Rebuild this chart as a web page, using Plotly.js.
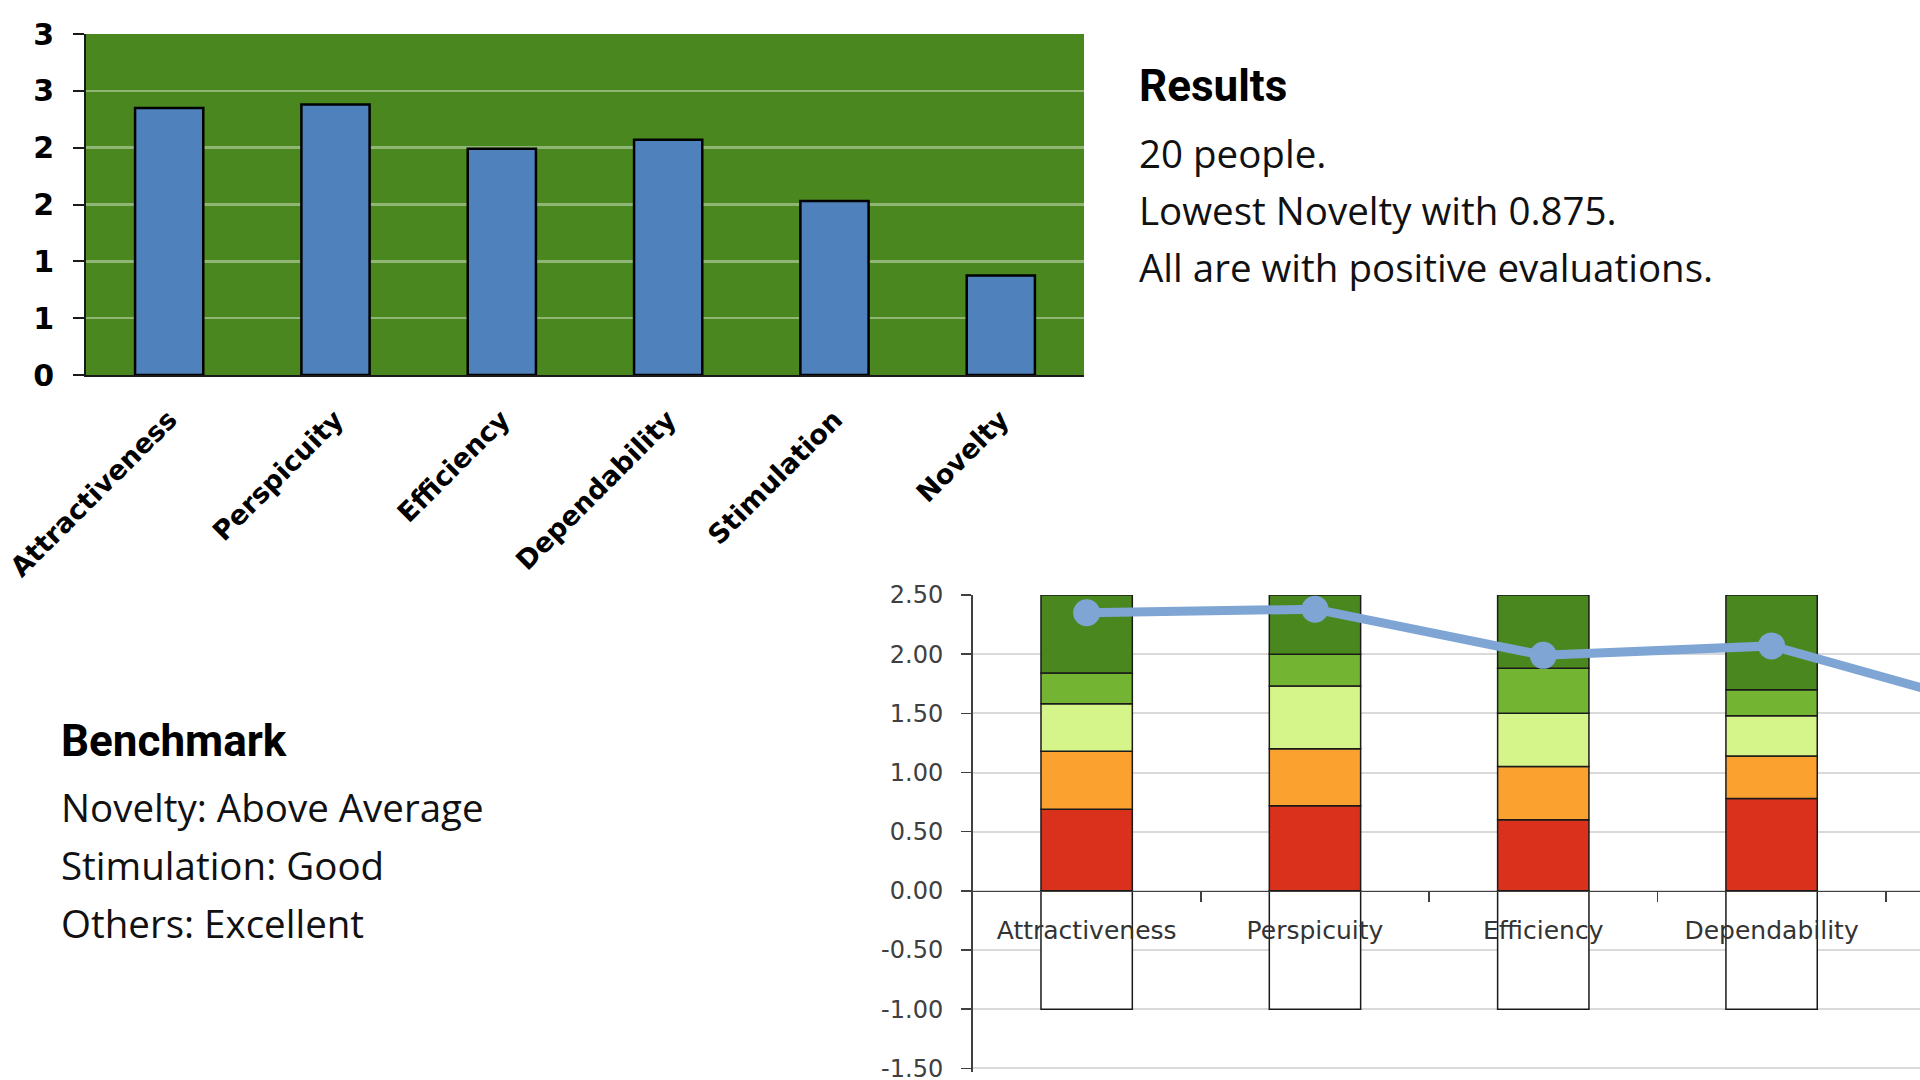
<!DOCTYPE html>
<html>
<head>
<meta charset="utf-8">
<script src="https://cdn.plot.ly/plotly-3.0.1.min.js"></script>
<style>
  html, body { margin: 0; padding: 0; background: #ffffff; }
  #chart { width: 1920px; height: 1080px; }
</style>
</head>
<body>
<div id="chart"></div>
<script>
// ---------- data ----------
const categories = ['Attractiveness', 'Perspicuity', 'Efficiency', 'Dependability', 'Stimulation', 'Novelty'];
const meanValues = [2.35, 2.38, 1.99, 2.07, 1.53, 0.875];

// top chart y tick labels (Excel "0" number format)
const topTickVals = [0, 0.5, 1, 1.5, 2, 2.5, 3];
const topTickText = ['0', '1', '1', '2', '2', '3', '3'];

// bottom chart y tick labels
const bottomTickVals = [-1.5, -1, -0.5, 0, 0.5, 1, 1.5, 2, 2.5];
const bottomTickText = ['-1.50', '-1.00', '-0.50', '0.00', '0.50', '1.00', '1.50', '2.00', '2.50'];

// benchmark stacked segments (heights of each band)
const lowerBorder  = [-1, -1, -1, -1, -1, -1];
const bad          = [0.69, 0.72, 0.60, 0.78, 0.50, 0.16];
const belowAverage = [0.49, 0.48, 0.45, 0.36, 0.50, 0.54];
const aboveAverage = [0.40, 0.53, 0.45, 0.34, 0.35, 0.42];
const good         = [0.26, 0.27, 0.38, 0.22, 0.20, 0.28];
const excellent    = [0.66, 0.50, 0.62, 0.80, 0.95, 1.10];

const resultsTitle = 'Results';
const resultsLines = ['20 people.', 'Lowest Novelty with 0.875.', 'All are with positive evaluations.'];
const benchTitle = 'Benchmark';
const benchLines = ['Novelty: Above Average', 'Stimulation: Good', 'Others: Excellent'];

// ---------- layout helpers ----------
const W = 1920, H = 1080;
const px = v => v / W;
const py = v => 1 - v / H;

const darkGreen = '#4A881F';
const segOutline = { color: '#1a1a1a', width: 1.5 };

const traces = [];

// top chart bars
traces.push({
  type: 'bar', x: categories, y: meanValues, xaxis: 'x', yaxis: 'y',
  width: 0.41,
  marker: { color: '#4F81BD', line: { color: '#000000', width: 2.5 } },
  hoverinfo: 'x+y', showlegend: false
});

// bottom benchmark stacked bars
const segs = [
  { y: lowerBorder,  c: '#FFFFFF' },
  { y: bad,          c: '#DA311C' },
  { y: belowAverage, c: '#FBA130' },
  { y: aboveAverage, c: '#D5F58A' },
  { y: good,         c: '#74B433' },
  { y: excellent,    c: darkGreen }
];
segs.forEach(s => traces.push({
  type: 'bar', x: categories, y: s.y, xaxis: 'x2', yaxis: 'y2',
  width: 0.4,
  marker: { color: s.c, line: segOutline },
  showlegend: false, hoverinfo: 'skip'
}));

// mean line
traces.push({
  type: 'scatter', mode: 'lines+markers', x: categories, y: meanValues,
  xaxis: 'x2', yaxis: 'y2',
  line: { color: '#7FA5D5', width: 9 },
  marker: { color: '#7FA5D5', size: 27 },
  showlegend: false
});

const annotations = [];
annotations.push({
  xref: 'paper', yref: 'paper', x: px(1137), y: py(86), xanchor: 'left', yanchor: 'middle',
  text: resultsTitle, showarrow: false,
  font: { family: 'Roboto', size: 44, weight: 700, color: '#000000' }
});
[153, 210, 267].forEach((yy, i) => annotations.push({
  xref: 'paper', yref: 'paper', x: px(1137), y: py(yy), xanchor: 'left', yanchor: 'middle',
  text: resultsLines[i], showarrow: false,
  font: { family: 'Open Sans', size: 38.5, color: '#111111' }
}));
annotations.push({
  xref: 'paper', yref: 'paper', x: px(59), y: py(741), xanchor: 'left', yanchor: 'middle',
  text: benchTitle, showarrow: false,
  font: { family: 'Roboto', size: 44, weight: 700, color: '#000000' }
});
[807, 865, 923].forEach((yy, i) => annotations.push({
  xref: 'paper', yref: 'paper', x: px(59), y: py(yy), xanchor: 'left', yanchor: 'middle',
  text: benchLines[i], showarrow: false,
  font: { family: 'Open Sans', size: 38.5, color: '#111111' }
}));

const layout = {
  width: W, height: H,
  margin: { l: 0, r: 0, t: 0, b: 0, pad: 0 },
  paper_bgcolor: '#ffffff', plot_bgcolor: 'rgba(0,0,0,0)',
  barmode: 'relative',
  showlegend: false,
  xaxis: {
    domain: [px(86), px(1084)], anchor: 'y', type: 'category',
    showline: true, linecolor: '#1a1a1a', linewidth: 2,
    ticks: '', showgrid: false, zeroline: false,
    tickangle: -45,
    ticklabelstandoff: 16,
    tickfont: { family: 'DejaVu Sans', size: 27, weight: 700, color: '#000000' },
    fixedrange: true
  },
  yaxis: {
    domain: [py(375), py(34)], anchor: 'x', range: [0, 3],
    tickmode: 'array', tickvals: topTickVals, ticktext: topTickText,
    showline: true, linecolor: '#1a1a1a', linewidth: 2,
    ticks: 'outside', ticklen: 11, tickwidth: 2, tickcolor: '#1a1a1a',
    ticklabelstandoff: 13,
    showgrid: true, gridcolor: 'rgba(200,220,185,0.55)', gridwidth: 2.5,
    zeroline: false,
    tickfont: { family: 'DejaVu Sans', size: 30, weight: 700, color: '#000000' },
    fixedrange: true
  },
  xaxis2: {
    domain: [px(972.5), 1], anchor: 'free', position: py(890.8), type: 'category',
    range: [-0.5, 3.65],
    showline: true, linecolor: '#404040', linewidth: 1.5,
    ticks: 'outside', tickson: 'boundaries', ticklen: 10, tickwidth: 1.5, tickcolor: '#404040',
    showgrid: false, zeroline: false,
    tickfont: { family: 'DejaVu Sans', size: 25, color: '#333333' },
    ticklabelstandoff: 17,
    fixedrange: true
  },
  yaxis2: {
    domain: [py(1071.9), py(595)], anchor: 'x2', range: [-1.53, 2.5],
    tickmode: 'array', tickvals: bottomTickVals, ticktext: bottomTickText,
    showline: true, linecolor: '#404040', linewidth: 1.5,
    ticks: 'outside', ticklen: 10, tickwidth: 1.5, tickcolor: '#404040',
    ticklabelstandoff: 13,
    ticklabeloverflow: 'allow',
    showgrid: true, gridcolor: '#D9D9D9', gridwidth: 2,
    zeroline: false,
    tickfont: { family: 'DejaVu Sans', size: 24, color: '#404040' },
    fixedrange: true
  },
  shapes: [{
    type: 'rect', xref: 'x domain', yref: 'y domain', x0: 0, x1: 1, y0: 0, y1: 1,
    fillcolor: darkGreen, line: { width: 0 }, layer: 'below'
  }],
  annotations: annotations
};

Plotly.newPlot('chart', traces, layout, { displayModeBar: false, staticPlot: true });
</script>
</body>
</html>
